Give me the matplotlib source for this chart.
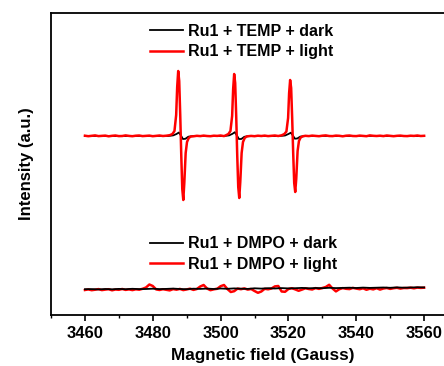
import matplotlib
matplotlib.use("Agg")
import matplotlib.pyplot as plt
from matplotlib.ticker import MultipleLocator

plt.rcParams['font.family'] = ['Liberation Sans', 'DejaVu Sans']
plt.rcParams['font.weight'] = 'bold'

# ---- data (Gauss, arbitrary intensity units) ----
temp_light_x = ([3460 + i for i in range(25)] +
                [3485, 3485.8, 3486.4, 3486.9, 3487.2, 3487.5, 3487.8, 3488.1, 3488.4, 3488.7, 3489.0, 3489.3, 3489.7, 3490.1, 3490.6, 3491.2] +
                [3492 + i for i in range(10)] +
                [3501.5, 3502.3, 3502.9, 3503.4, 3503.7, 3504.0, 3504.3, 3504.6, 3504.9, 3505.2, 3505.5, 3505.8, 3506.2, 3506.6, 3507.1, 3507.7] +
                [3509 + i for i in range(9)] +
                [3518, 3518.8, 3519.4, 3519.9, 3520.2, 3520.5, 3520.8, 3521.1, 3521.4, 3521.7, 3522.0, 3522.3, 3522.7, 3523.1, 3523.6, 3524.2] +
                [3525 + i for i in range(36)])
temp_light_y = ([179.3, 178.8, 179.2, 179.6, 178.9, 179.1, 179.4, 178.7, 179.2, 179.5, 178.9, 179.0, 179.6,
                 179.1, 178.8, 179.3, 179.5, 178.9, 179.2, 179.4, 178.8, 179.1, 179.5, 179.0, 179.3] +
                [179.8, 181, 184, 200, 228, 244, 234, 200, 160, 126, 115, 132, 162, 173, 177, 178.5] +
                [178.7, 179.2, 178.9, 179.4, 179.0, 178.8, 179.3, 179.1, 179.5, 178.9] +
                [179.6, 181, 184, 199, 226, 241, 232, 199, 160, 128, 117, 133, 162, 173, 177, 178.6] +
                [179.1, 178.8, 179.3, 179.0, 179.4, 178.9, 179.2, 179.5, 179.0] +
                [179.7, 181, 183.5, 197, 222, 235, 227, 197, 162, 132, 123, 136, 164, 174, 177.5, 178.7] +
                [179.2, 178.9, 179.4, 179.1, 178.8, 179.3, 179.6, 179.0, 178.9, 179.4, 179.2, 178.7, 179.3, 179.5,
                 179.0, 178.9, 179.4, 179.1, 178.8, 179.6, 179.2, 179.0, 179.3, 178.9, 179.5, 179.1, 178.8, 179.2,
                 179.4, 179.0, 178.9, 179.3, 179.1, 179.5, 179.0, 179.2])

temp_dark_x = [3460, 3465, 3470, 3475, 3480,
               3484.5, 3486.0, 3487.0, 3487.7, 3488.3, 3488.9, 3489.6, 3490.5, 3492.0,
               3495, 3498,
               3501.0, 3502.5, 3503.5, 3504.2, 3504.8, 3505.4, 3506.1, 3507.0, 3508.5,
               3512, 3515,
               3517.5, 3519.0, 3520.0, 3520.7, 3521.3, 3521.9, 3522.6, 3523.5, 3525.0,
               3530, 3535, 3540, 3545, 3550, 3555, 3560]
temp_dark_y = [179.0, 179.1, 178.9, 179.0, 179.1,
               179.0, 179.6, 181.0, 182.5, 179.5, 176.0, 176.2, 178.3, 179.0,
               179.1, 178.9,
               179.0, 179.6, 181.2, 182.8, 179.5, 176.0, 176.0, 178.2, 179.0,
               179.1, 178.9,
               179.0, 179.5, 181.0, 182.3, 179.5, 176.3, 176.5, 178.4, 179.0,
               179.1, 178.9, 179.0, 179.1, 179.0, 178.9, 179.0]

dmpo_dark_x = [3460 + 2 * i for i in range(51)]
dmpo_dark_y = [25.8, 25.9, 25.6, 26.0, 25.7, 26.1, 25.8, 26.2, 25.9, 26.0, 26.3, 25.9, 26.1, 26.4, 26.0,
               25.8, 26.3, 26.1, 26.4, 26.0, 26.5, 26.2, 26.6, 26.3, 26.1, 26.7, 26.4, 26.8, 26.5, 26.9,
               26.6, 26.8, 27.1, 26.7, 27.0, 26.8, 27.2, 26.9, 27.1, 27.3, 27.0, 27.4, 27.1, 27.3, 27.5,
               27.2, 27.6, 27.3, 27.5, 27.7, 27.6]

dmpo_light_x = [3460 + i for i in range(101)]
dmpo_light_y = [25.0, 25.6, 24.8, 25.3, 25.9, 24.9, 25.4, 25.8, 24.7, 25.5,
                25.2, 26.0, 25.1, 25.6, 24.9, 25.7, 25.3, 26.2, 27.5, 30.5,
                29.0, 25.6, 25.0, 25.8, 25.2, 24.6, 25.9, 25.3, 26.1, 24.9,
                25.6, 26.3, 25.1, 26.0, 28.5, 30.0, 26.5, 24.8, 25.7, 26.2,
                28.8, 30.0, 26.0, 23.0, 23.8, 26.4, 25.8, 26.6, 25.4, 26.0,
                24.0, 22.2, 23.5, 26.2, 25.7, 26.5, 28.6, 29.0, 23.5, 23.2,
                26.0, 26.8, 25.6, 24.2, 25.4, 26.7, 26.0, 25.5, 26.9, 26.1,
                27.0, 28.0, 30.2, 26.5, 23.6, 25.8, 26.9, 26.2, 25.9, 27.1,
                26.4, 25.8, 26.7, 25.2, 26.3, 25.6, 26.8, 25.4, 26.5, 27.0,
                26.1, 26.8, 27.2, 26.4, 27.0, 26.9, 27.3, 26.7, 27.4, 27.1,
                27.3]

labels_temp = ['Ru1 + TEMP + dark', 'Ru1 + TEMP + light']
labels_dmpo = ['Ru1 + DMPO + dark', 'Ru1 + DMPO + light']
x_ticks = [3460, 3480, 3500, 3520, 3540, 3560]

# ---- figure ----
fig = plt.figure(figsize=(4.44, 3.66), dpi=100)
ax = fig.add_axes([51 / 444, 51 / 366, 424 / 444, 302 / 366])

l1, = ax.plot(temp_dark_x, temp_dark_y, color='black', lw=1.3, zorder=2)
l2, = ax.plot(temp_light_x, temp_light_y, color='#ff0000', lw=1.8, zorder=3)
l4, = ax.plot(dmpo_light_x, dmpo_light_y, color='#ff0000', lw=1.8, zorder=2)
l3, = ax.plot(dmpo_dark_x, dmpo_dark_y, color='black', lw=1.3, zorder=3)

ax.set_xlim(3450, 3575)
ax.set_ylim(0, 302)
ax.set_xticks(x_ticks)
ax.xaxis.set_minor_locator(MultipleLocator(10))
ax.set_yticks([])
ax.tick_params(axis='x', which='major', direction='out', length=4.5, width=1.2,
               labelsize=12, pad=3.5)
ax.tick_params(axis='x', which='minor', direction='out', length=2.5, width=1.0)
for lab in ax.get_xticklabels():
    lab.set_fontweight('bold')
for s in ax.spines.values():
    s.set_linewidth(1.3)

ax.set_xlabel('Magnetic field (Gauss)', fontsize=12.3, fontweight='bold', labelpad=5)
ax.set_ylabel('Intensity (a.u.)', fontsize=12, fontweight='bold', labelpad=12.5)

leg_kw = dict(frameon=False, loc='center left', borderpad=0,
              borderaxespad=0, handlelength=2.05, handletextpad=0.3,
              labelspacing=0.33, prop={'weight': 'bold', 'size': 11.5})
leg1 = ax.legend([l1, l2], labels_temp, bbox_to_anchor=(99 / 424, 273.5 / 302), **leg_kw)
ax.add_artist(leg1)
ax.legend([l3, l4], labels_dmpo, bbox_to_anchor=(99 / 424, 61 / 302), **leg_kw)

fig.savefig('out.png', dpi=100)
